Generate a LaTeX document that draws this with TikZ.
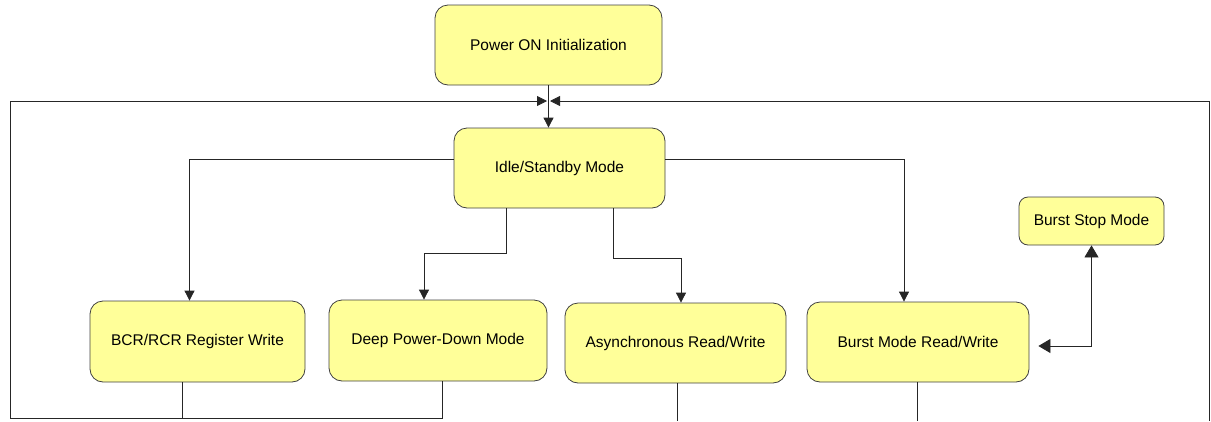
\documentclass[tikz,border=0pt]{standalone}
\usepackage{fontspec}
\setmainfont{Liberation Sans}
\usetikzlibrary{arrows.meta}
\definecolor{boxfill}{RGB}{255,255,153}
\begin{document}
\begin{tikzpicture}[x=1pt,y=-1pt,
  statebox/.style={draw=black!75,line width=0.8pt,fill=boxfill,rounded corners=13pt,
    inner sep=0pt,align=center,font=\fontsize{15.5}{18}\selectfont},
  conn/.style={draw=black!85,line width=0.8pt},
  tip/.style={-{Triangle[width=10pt,length=10pt]}},
  bigtip/.style={{Triangle[width=14pt,length=12pt]}-{Triangle[width=14pt,length=12pt]}}]
\useasboundingbox (0,0) rectangle (1211,421);
\node[statebox,minimum width=227pt,minimum height=80pt] (power) at (548.5,45) {Power ON Initialization};
\node[statebox,minimum width=211pt,minimum height=80pt] (idle) at (559.5,168) {Idle/Standby Mode};
\node[statebox,minimum width=215pt,minimum height=81pt] (bcr) at (197.5,341.5) {BCR/RCR Register Write};
\node[statebox,minimum width=218pt,minimum height=81pt] (deep) at (438,340.5) {Deep Power-Down Mode};
\node[statebox,minimum width=221pt,minimum height=80pt] (async) at (675.5,343) {Asynchronous Read/Write};
\node[statebox,minimum width=222pt,minimum height=80pt] (burst) at (918,342) {Burst Mode Read/Write};
\node[statebox,minimum width=145pt,minimum height=48pt,rounded corners=9pt] (stop) at (1091.5,221) {Burst Stop Mode};
% coordinates
\coordinate (bl) at (10,418);
\coordinate (tl) at (10,101);
\coordinate (jl) at (547,101);
\coordinate (jr) at (550,101);
\coordinate (tr) at (1209,101);
\coordinate (br) at (1209,421);
\coordinate (ea) at (677,421);
\coordinate (eb) at (917,421);
% power to idle
\draw[conn,tip] (power.south) -- (power.south |- idle.north);
% idle to children
\draw[conn,tip] ([yshift=9pt]idle.west) -| ([xshift=-8pt]bcr.north);
\draw[conn,tip] ([yshift=9pt]idle.east) -| ([xshift=-14pt]burst.north);
\draw[conn,tip] ([xshift=-53.5pt]idle.south) -- ++(0,45) -| ([xshift=-14pt]deep.north);
\draw[conn,tip] ([xshift=53.5pt]idle.south) -- ++(0,50) -| ([xshift=5.5pt]async.north);
% burst <-> stop
\draw[conn,bigtip] (stop.south) |- ([xshift=9pt,yshift=-4pt]burst.east);
% return loops
\draw[conn] ([xshift=-15.5pt]bcr.south) -- ([xshift=-15.5pt]bcr.south |- bl);
\draw[conn,tip] ([xshift=4pt]deep.south) -- ([xshift=4pt]deep.south |- bl) -- (bl) -- (tl) -- (jl);
\draw[conn] ([xshift=1.5pt]async.south) -- (ea);
\draw[conn] ([xshift=-1pt]burst.south) -- (eb);
\draw[conn,tip] (br) -- (tr) -- (jr);
\end{tikzpicture}
\end{document}
